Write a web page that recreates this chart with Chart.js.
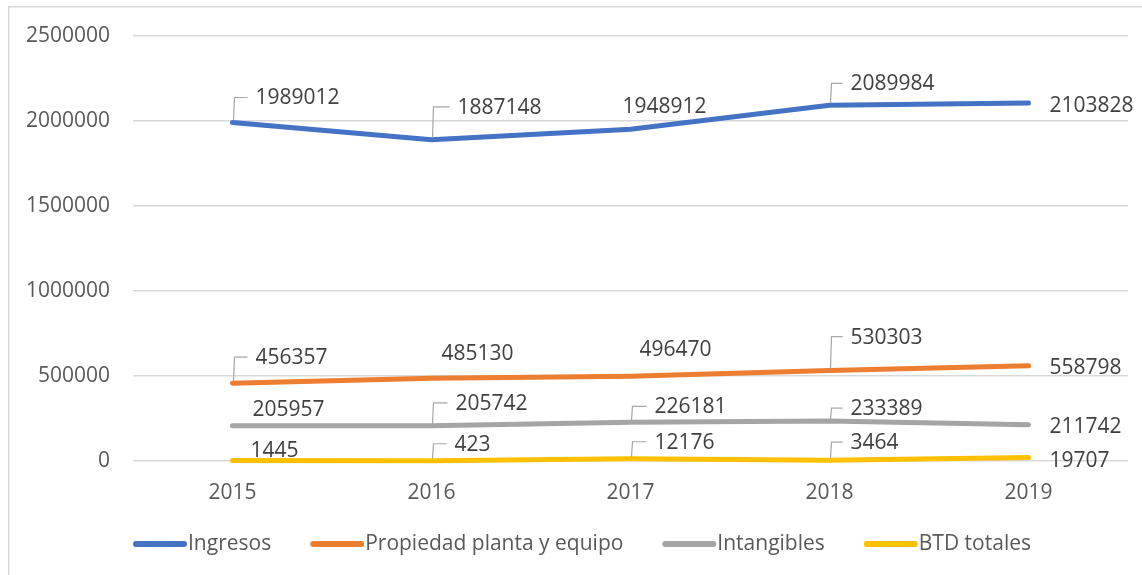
<!DOCTYPE html>
<html>
<head>
<meta charset="utf-8">
<script src="https://cdn.jsdelivr.net/npm/chart.js@4.4.0/dist/chart.umd.min.js"></script>
<style>
  html, body { margin: 0; padding: 0; background: #fff; }
  #wrap { position: relative; width: 1142px; height: 575px; }
</style>
</head>
<body>
<div id="wrap"><canvas id="lineasChart" width="1142" height="575"></canvas></div>
<script>
var anios = ['2015', '2016', '2017', '2018', '2019'];
var ingresos = [1989012, 1887148, 1948912, 2089984, 2103828];
var propiedad = [456357, 485130, 496470, 530303, 558798];
var intangibles = [205957, 205742, 226181, 233389, 211742];
var btdTotales = [1445, 423, 12176, 3464, 19707];
var ticksY = [0, 500000, 1000000, 1500000, 2000000, 2500000];

// posicion de cada etiqueta respecto a su punto: [dx, dy, con linea guia]
var posEtiquetas = [
    [[23, -25, 1], [26, -33, 1], [-8, -23, 0], [21, -22, 1], [21, 2, 0]],
    [[23, -26, 1], [10, -25, 0], [9, -27, 0], [21, -34, 1], [21, 1, 0]],
    [[20, -17, 0], [24, -23, 1], [24, -16, 1], [21, -13, 1], [21, 1, 0]],
    [[18, -11, 0], [23, -17, 1], [24, -17, 1], [21, -18, 1], [21, 3, 0]]
];

var marco = {
    id: 'marco',
    beforeDraw: function(chart) {
        var c = chart.ctx;
        c.save();
        c.fillStyle = '#d9d9d9';
        c.fillRect(8, 6, 1134, 1.5);
        c.fillRect(8, 6, 1.5, 569);
        c.restore();
    }
};

var etiquetas = {
    id: 'etiquetas',
    afterDatasetsDraw: function(chart) {
        var c = chart.ctx;
        c.save();
        c.font = '21px "Open Sans"';
        c.textBaseline = 'middle';
        c.textAlign = 'left';
        chart.data.datasets.forEach(function(ds, di) {
            var meta = chart.getDatasetMeta(di);
            meta.data.forEach(function(pt, i) {
                var p = posEtiquetas[di][i];
                var lx = pt.x + p[0];
                var ly = pt.y + p[1];
                if (p[2]) {
                    c.strokeStyle = '#a6a6a6';
                    c.lineWidth = 1.2;
                    c.beginPath();
                    c.moveTo(pt.x + 1, pt.y - 2);
                    c.lineTo(pt.x + 2, ly);
                    c.lineTo(lx - 8, ly);
                    c.stroke();
                }
                c.fillStyle = '#404040';
                c.fillText(String(ds.data[i]), lx, ly + 1);
            });
        });
        c.restore();
    }
};

// leyenda tipo Excel: linea gruesa pegada al texto
var leyenda = {
    id: 'leyenda',
    afterDraw: function(chart) {
        var c = chart.ctx;
        var x = 133, y = 544;
        c.save();
        c.font = '21px "Open Sans"';
        c.textBaseline = 'middle';
        c.textAlign = 'left';
        chart.data.datasets.forEach(function(ds) {
            c.strokeStyle = ds.borderColor;
            c.lineWidth = 6;
            c.lineCap = 'round';
            c.beginPath();
            c.moveTo(x + 3, y);
            c.lineTo(x + 51, y);
            c.stroke();
            c.fillStyle = '#595959';
            c.fillText(ds.label, x + 55, y);
            x += 55 + c.measureText(ds.label).width + 39;
        });
        c.restore();
    }
};

function serie(nombre, datos, color) {
    return {
        label: nombre,
        data: datos,
        borderColor: color,
        backgroundColor: color,
        borderWidth: 5,
        borderCapStyle: 'round',
        pointRadius: 0,
        pointHoverRadius: 0,
        tension: 0,
        clip: false
    };
}

var ctx = document.getElementById('lineasChart').getContext('2d');
var lineasChart = new Chart(ctx, {
    type: 'line',
    data: {
        labels: anios,
        datasets: [
            serie('Ingresos', ingresos, '#4472c4'),
            serie('Propiedad planta y equipo', propiedad, '#ed7d31'),
            serie('Intangibles', intangibles, '#a5a5a5'),
            serie('BTD totales', btdTotales, '#ffc000')
        ]
    },
    options: {
        responsive: false,
        animation: false,
        events: [],
        layout: { padding: { top: 35, right: 14, bottom: 49, left: 0 } },
        scales: {
            x: {
                offset: true,
                grid: { display: false, drawTicks: false },
                border: { display: false },
                ticks: { color: '#595959', font: { family: 'Open Sans', size: 21 }, padding: 20 }
            },
            y: {
                min: 0,
                max: 2500000,
                afterBuildTicks: function(scale) {
                    scale.ticks = ticksY.map(function(v) { return { value: v }; });
                },
                afterFit: function(scale) { scale.width = 133; },
                grid: { color: '#d9d9d9', lineWidth: 1.5, drawTicks: false },
                border: { display: false },
                ticks: {
                    color: '#595959',
                    font: { family: 'Open Sans', size: 21 },
                    padding: 23,
                    callback: function(v) { return String(v); }
                }
            }
        },
        plugins: {
            tooltip: { enabled: false },
            legend: { display: false }
        }
    },
    plugins: [marco, etiquetas, leyenda]
});
</script>
</body>
</html>
